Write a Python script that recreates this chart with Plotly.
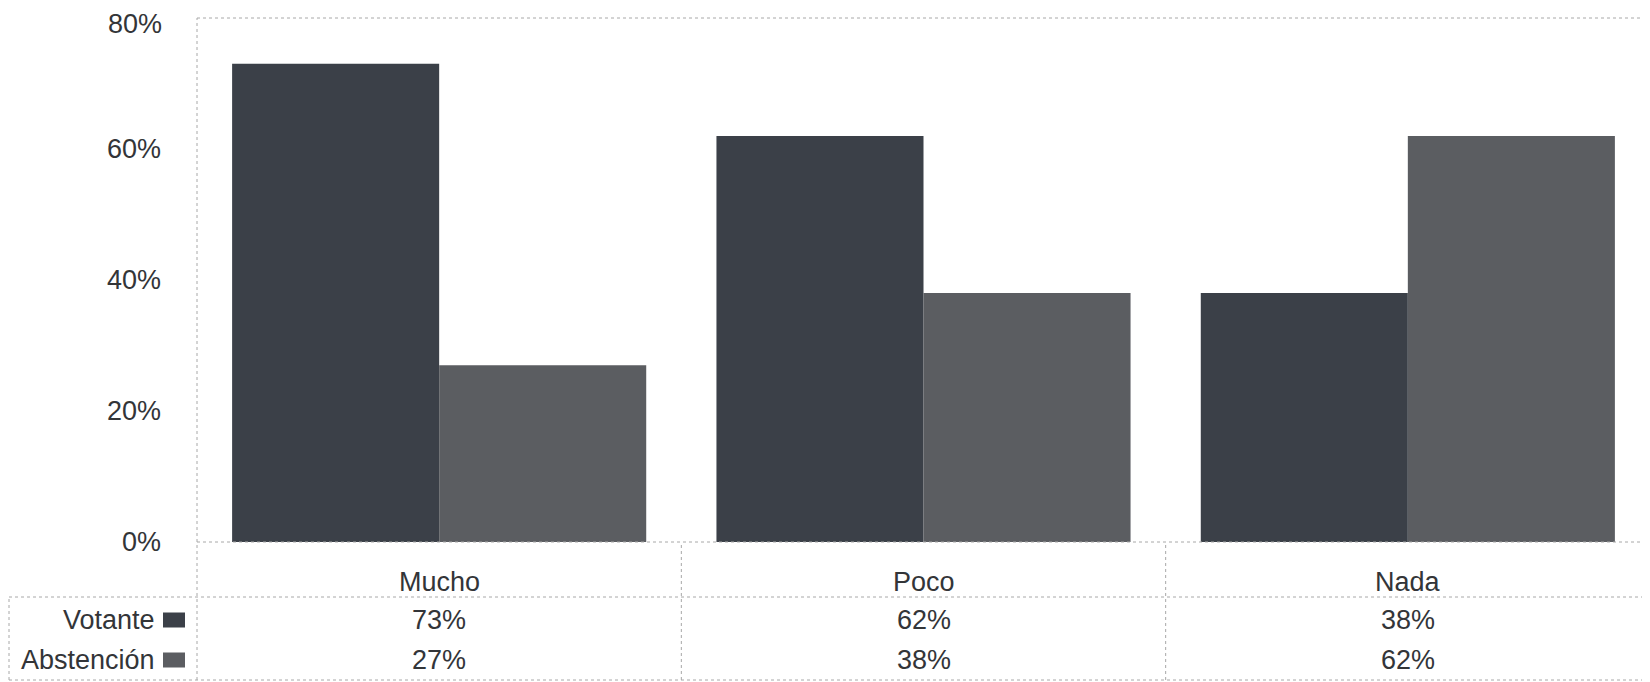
import plotly.graph_objects as go

categories = ["Mucho", "Poco", "Nada"]
votante = [0.73, 0.62, 0.38]
abstencion = [0.27, 0.38, 0.62]
series_names = ["Votante", "Abstención"]
series_colors = ["#3b4048", "#5b5d61"]
y_ticks = [0, 0.2, 0.4, 0.6, 0.8]

# page body has an 8px default margin; lay the figure out to compensate
OFF = 8
W, H = 1650 - OFF, 682 - OFF
L, T = 197 - OFF, 18 - OFF
PLOT_BOTTOM = 542 - OFF
R, B = 0, H - PLOT_BOTTOM
pw, ph = W - L - R, H - T - B

def py(pix):
    return (PLOT_BOTTOM - (pix - OFF)) / ph

def px(pix):
    return ((pix - OFF) - L) / pw

fig = go.Figure()
for name, vals, col in zip(series_names, [votante, abstencion], series_colors):
    fig.add_trace(go.Bar(x=categories, y=vals, name=name, marker=dict(color=col, line=dict(width=0))))

font = dict(family="Liberation Sans, Arial, sans-serif", size=27, color="#333538")
line_style = dict(color="#a8a8a8", width=1, dash="dot")

shapes = []
shapes.append(dict(type="line", xref="paper", yref="paper", x0=0, x1=1, y0=1, y1=1, line=line_style))
shapes.append(dict(type="line", xref="paper", yref="paper", x0=0, x1=1, y0=0, y1=0, line=line_style))
shapes.append(dict(type="line", xref="paper", yref="paper", x0=0, x1=0, y0=py(680), y1=1, line=line_style))
shapes.append(dict(type="line", xref="paper", yref="paper", x0=px(9), x1=1, y0=py(597), y1=py(597), line=line_style))
shapes.append(dict(type="line", xref="paper", yref="paper", x0=px(9), x1=1, y0=py(680), y1=py(680), line=line_style))
shapes.append(dict(type="line", xref="paper", yref="paper", x0=px(9), x1=px(9), y0=py(680), y1=py(597), line=line_style))
for i in range(1, len(categories)):
    shapes.append(dict(type="line", xref="x", yref="paper", x0=i - 0.5, x1=i - 0.5, y0=py(680), y1=0, line=line_style))

annotations = []
# y tick labels (top one kept inside the canvas)
for t in y_ticks:
    if t == max(y_ticks):
        annotations.append(dict(x=px(163), y=t, xref="paper", yref="y", text=f"{round(t*100)}%", showarrow=False,
                                font=font, xanchor="right", yanchor="top", yshift=T, borderpad=0))
    else:
        annotations.append(dict(x=px(163), y=t, xref="paper", yref="y", text=f"{round(t*100)}%", showarrow=False,
                                font=font, xanchor="right", yanchor="middle"))
for c in categories:
    annotations.append(dict(x=c, y=py(582), xref="x", yref="paper", text=c, showarrow=False, font=font, xanchor="center", yanchor="middle"))
row_y = [py(620), py(660)]
for name, vals, col, ry in zip(series_names, [votante, abstencion], series_colors, row_y):
    annotations.append(dict(x=px(157), y=ry, xref="paper", yref="paper", text=name, showarrow=False, font=font, xanchor="right", yanchor="middle"))
    shapes.append(dict(type="rect", xref="paper", yref="paper", x0=px(163), x1=px(185), y0=ry - 7.5 / ph, y1=ry + 7.5 / ph, fillcolor=col, line=dict(width=0)))
    for c, v in zip(categories, vals):
        annotations.append(dict(x=c, y=ry, xref="x", yref="paper", text=f"{round(v*100)}%", showarrow=False, font=font, xanchor="center", yanchor="middle"))

fig.update_layout(
    width=W, height=H,
    margin=dict(l=L, r=R, t=T, b=B),
    paper_bgcolor="white", plot_bgcolor="white",
    barmode="group", bargap=0.145, bargroupgap=0,
    showlegend=False,
    font=font,
    shapes=shapes, annotations=annotations,
    xaxis=dict(showticklabels=False, showgrid=False, zeroline=False, showline=False, range=[-0.5, 2.5]),
    yaxis=dict(range=[0, 0.8], tickvals=y_ticks, showticklabels=False, showgrid=False, zeroline=False,
               showline=False, ticks=""),
)
fig.write_html("out.html")
